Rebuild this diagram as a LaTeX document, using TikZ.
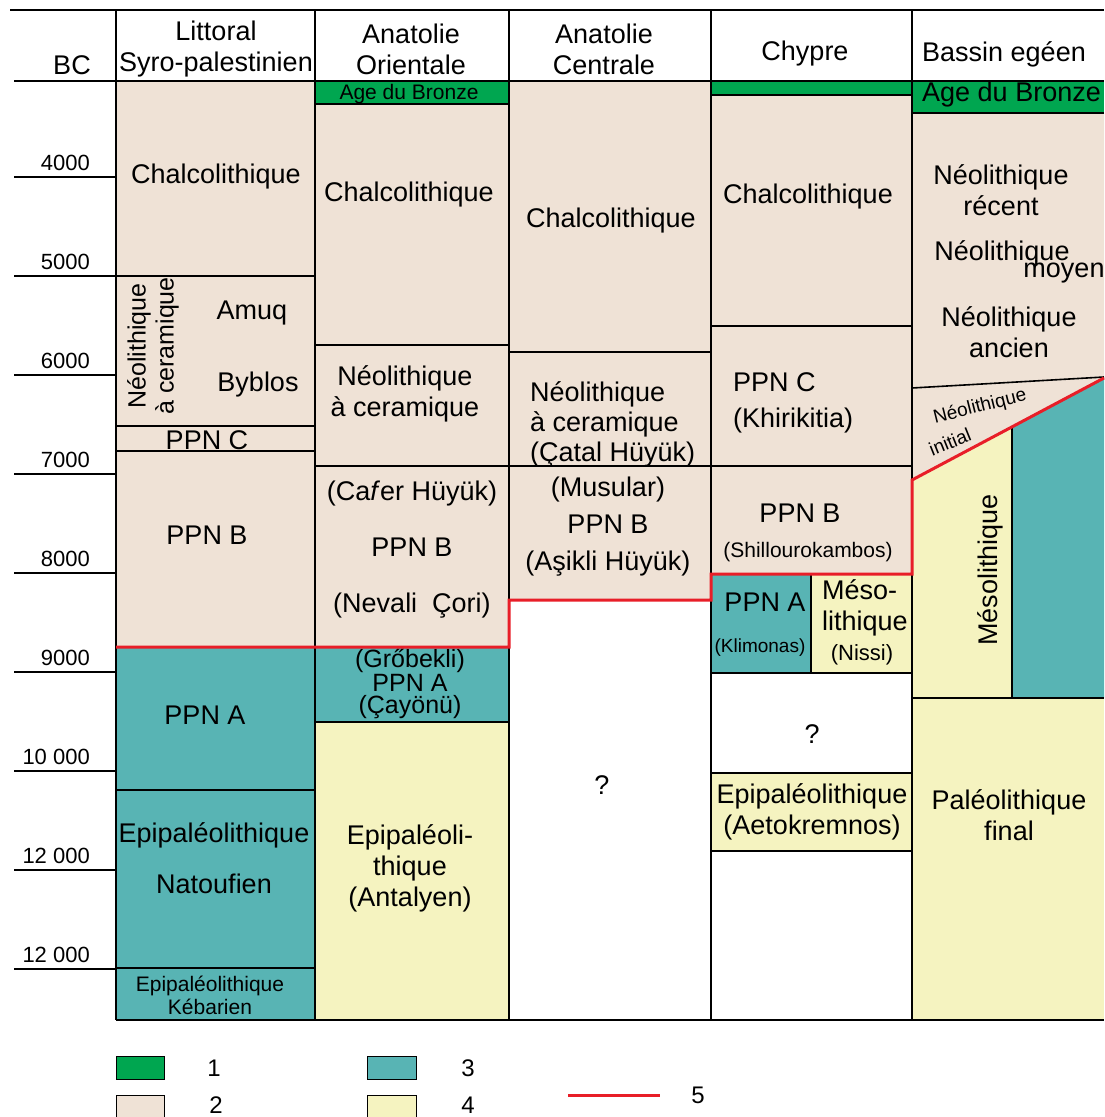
\documentclass[tikz,border=0pt]{standalone}
\usepackage{fontspec}
\setmainfont{Liberation Sans}
\definecolor{bronze}{RGB}{0,166,80}
\definecolor{chalco}{RGB}{239,226,214}
\definecolor{ppna}{RGB}{88,180,180}
\definecolor{meso}{RGB}{245,243,192}
\definecolor{limite}{RGB}{232,30,40}

\begin{document}
\begin{tikzpicture}[x=1pt,y=-1pt,
  grille/.style={draw=black, line width=1.6pt},
  txt/.style={font=\fontsize{27}{31}\selectfont, align=center, inner sep=0pt},
  petit/.style={font=\fontsize{21}{23}\selectfont, align=center, inner sep=0pt},
  annee/.style={font=\fontsize{22}{24}\selectfont, anchor=base east, inner sep=0pt},
  legende/.style={font=\fontsize{24}{26}\selectfont, inner sep=0pt}]

  \useasboundingbox[fill=white] (0,0) rectangle (1104,1117);

  % Fonds des colonnes
  \fill[chalco] (116,81) rectangle (315,647);
  \fill[ppna] (116,647) rectangle (315,1020);
  \fill[bronze] (315,81) rectangle (509,104);
  \fill[chalco] (315,104) rectangle (509,647);
  \fill[ppna] (315,647) rectangle (509,722);
  \fill[meso] (315,722) rectangle (509,1020);
  \fill[chalco] (509,81) rectangle (711,600);
  \fill[bronze] (711,81) rectangle (912,95);
  \fill[chalco] (711,95) rectangle (912,574);
  \fill[ppna] (711,574) rectangle (811,673);
  \fill[meso] (811,574) rectangle (912,673);
  \fill[meso] (711,773) rectangle (912,851);
  \fill[bronze] (912,81) rectangle (1104,113);
  \fill[chalco] (912,113) -- (1104,113) -- (1104,378) -- (912,480) -- cycle;
  \fill[meso] (912,480) -- (1012,427) -- (1012,698) -- (912,698) -- cycle;
  \fill[ppna] (1012,427) -- (1104,378) -- (1104,698) -- (1012,698) -- cycle;
  \fill[meso] (912,698) rectangle (1104,1020);

  % Cadre et colonnes
  \draw[grille] (10,10) -- (1104,10);
  \draw[grille] (14,81) -- (1104,81);
  \draw[grille] (116,1020) -- (1104,1020);
  \foreach \x in {116,315,509,711,912}
    \draw[grille] (\x,10) -- (\x,1020);

  % Echelle BC
  \node[txt] (bc) at (72,65) {BC};
  \foreach \y/\lab [count=\i] in {177/4000,276/5000,375/6000,474/7000,573/8000,672/9000,771/10 000,870/12 000,969/12 000} {
    \draw[grille] (14,\y) -- (116,\y);
    \node[annee] (t\i) at (90,\y-7) {\lab};
  }

  % En-tetes
  \node[txt] (littoral) at (216,49) {Littoral\\Syro-palestinien};
  \node[txt] (orientale) at (411,49) {Anatolie\\Orientale};
  \node[txt] (centrale) at (604,49) {Anatolie\\Centrale};
  \node[txt] (chypre) at (805,54) {Chypre};
  \node[txt, anchor=west] (egee) at (922,54) {Bassin egéen};

  % Littoral Syro-palestinien
  \draw[grille] (116,276) -- (315,276);
  \draw[grille] (116,426) -- (315,426);
  \draw[grille] (116,451) -- (315,451);
  \draw[grille] (116,790) -- (315,790);
  \draw[grille] (116,968) -- (315,968);
  \node[txt] (chalL) at (216,177) {Chalcolithique};
  \node[txt, rotate=90, font=\fontsize{25}{28}\selectfont] (ceramL) at (153,346) {Néolithique\\à ceramique};
  \node[txt] (amuq) at (252,313) {Amuq};
  \node[txt] (byblos) at (258,385) {Byblos};
  \node[txt] (ppncL) at (207,440) {PPN C};
  \node[txt] (ppnbL) at (207,535) {PPN B};
  \node[txt] (ppnaL) at (205,715) {PPN A};
  \node[txt, font=\fontsize{27}{51}\selectfont] (natoufien) at (214,858) {Epipaléolithique\\Natoufien};
  \node[petit] (kebarien) at (210,995) {Epipaléolithique\\Kébarien};

  % Anatolie Orientale
  \draw[grille] (315,104) -- (509,104);
  \draw[grille] (315,345) -- (509,345);
  \draw[grille] (315,466) -- (509,466);
  \draw[grille] (315,722) -- (509,722);
  \node[petit] (bronzeO) at (409,94) {Age du Bronze};
  \node[txt] (chalO) at (409,195) {Chalcolithique};
  \node[txt] (ceramO) at (405,394) {Néolithique\\à ceramique};
  \node[txt, font=\fontsize{27}{56}\selectfont] (ppnbO) at (412,550) {(Ca\textit{f}er Hüyük)\\PPN B\\(Nevali\ \ Çori)};
  \node[txt, font=\fontsize{25}{22}\selectfont] (ppnaO) at (410,684) {(Grőbekli)\\PPN A\\(Çayönü)};
  \node[txt] (antalyen) at (410,868) {Epipaléoli-\\thique\\(Antalyen)};

  % Anatolie Centrale
  \draw[grille] (509,352) -- (711,352);
  \draw[grille] (509,466) -- (711,466);
  \node[txt] (chalC) at (611,221) {Chalcolithique};
  \node[txt, align=left, anchor=west, font=\fontsize{27}{30}\selectfont] (catal) at (530,424) {Néolithique\\à ceramique\\(Çatal Hüyük)};
  \node[txt, font=\fontsize{27}{37}\selectfont] (ppnbC) at (608,527) {(Musular)\\PPN B\\(Aşikli Hüyük)};
  \node[txt] (inconnuC) at (602,785) {?};

  % Chypre
  \draw[grille] (711,95) -- (912,95);
  \draw[grille] (711,326) -- (912,326);
  \draw[grille] (711,466) -- (912,466);
  \draw[grille] (711,673) -- (912,673);
  \draw[grille] (711,773) -- (912,773);
  \draw[grille] (711,851) -- (912,851);
  \draw[grille] (811,574) -- (811,673);
  \node[txt] (chalY) at (808,197) {Chalcolithique};
  \node[txt, align=left, anchor=west, font=\fontsize{27}{36}\selectfont] (khirikitia) at (733,403) {PPN C\\(Khirikitia)};
  \node[txt] (ppnbY) at (800,513) {PPN B};
  \node[petit] (shillou) at (808,552) {(Shillourokambos)};
  \node[txt] (ppnaY) at (765,602) {PPN A};
  \node[petit, font=\fontsize{19}{21}\selectfont] (klimonas) at (760,648) {(Klimonas)};
  \node[txt, align=left, anchor=west] (mesoY) at (822,608) {Méso-\\lithique};
  \node[petit, font=\fontsize{22}{24}\selectfont] (nissi) at (862,655) {(Nissi)};
  \node[txt] (inconnuY) at (812,734) {?};
  \node[txt] (aetok) at (812,812) {Epipaléolithique\\(Aetokremnos)};

  % Bassin egeen
  \draw[grille] (912,113) -- (1104,113);
  \draw[grille] (912,388) -- (1104,377);
  \draw[grille] (912,698) -- (1104,698);
  \draw[grille] (1012,427) -- (1012,698);
  \node[txt, anchor=west] (bronzeE) at (922,95) {Age du Bronze};
  \node[txt] (recent) at (1001,190) {Néolithique\\récent};
  \node[txt] (moyen1) at (1002,253) {Néolithique};
  \node[txt] (moyen2) at (1064,273) {moyen};
  \node[txt] (ancien) at (1009,332) {Néolithique\\ancien};
  \node[petit, font=\fontsize{19}{21}\selectfont, rotate=14] (initial1) at (980,407) {Néolithique};
  \node[petit, font=\fontsize{19}{21}\selectfont, rotate=22] (initial2) at (950,442) {initial};
  \node[txt, rotate=90] (mesoE) at (990,570) {Mésolithique};
  \node[txt] (paleo) at (1009,815) {Paléolithique\\final};

  % Limite
  \draw[limite, line width=3pt] (116,647) -- (509,647) -- (509,600) -- (711,600) -- (711,574) -- (912,574) -- (912,480) -- (1104,378);

  % Legende
  \draw[line width=1pt, fill=bronze] (116,1056) rectangle (164,1079);
  \draw[line width=1pt, fill=chalco] (116,1095) rectangle (164,1120);
  \draw[line width=1pt, fill=ppna] (367,1056) rectangle (416,1079);
  \draw[line width=1pt, fill=meso] (367,1095) rectangle (416,1120);
  \draw[limite, line width=3pt] (568,1095) -- (660,1095);
  \node[legende] (l1) at (214,1068) {1};
  \node[legende] (l2) at (216,1105) {2};
  \node[legende] (l3) at (468,1068) {3};
  \node[legende] (l4) at (468,1105) {4};
  \node[legende] (l5) at (698,1095) {5};

\end{tikzpicture}
\end{document}
